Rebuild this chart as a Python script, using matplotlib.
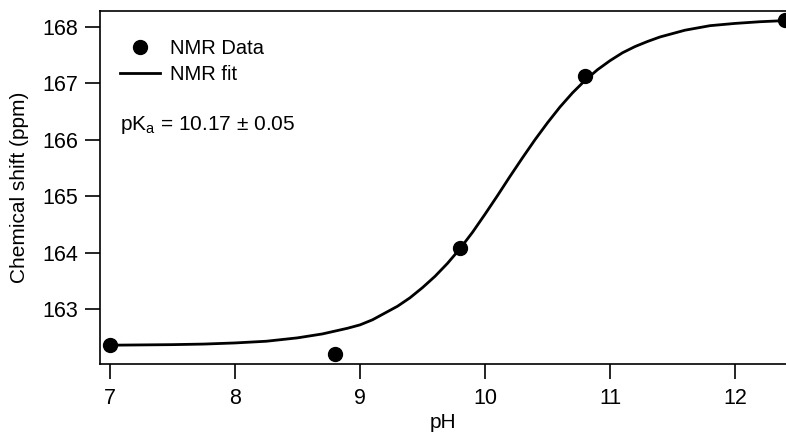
import matplotlib
matplotlib.use('Agg')
import matplotlib.pyplot as plt

# measured NMR points (pH, chemical shift in ppm)
ph_data = [7.0, 8.8, 9.8, 10.8, 12.4]
shift_data = [162.36, 162.21, 164.08, 167.12, 168.12]

# fit curve, values
ph_fit = [7.0, 7.5, 7.75, 8.0, 8.25, 8.5, 8.7, 8.9, 9.0, 9.1, 9.2, 9.3, 9.4,
          9.5, 9.6, 9.7, 9.8, 9.9, 10.0, 10.1, 10.2, 10.3, 10.4, 10.5, 10.6,
          10.7, 10.8, 10.9, 11.0, 11.1, 11.2, 11.3, 11.4, 11.5, 11.6, 11.8,
          12.0, 12.2, 12.4]
shift_fit = [162.36, 162.37, 162.38, 162.40, 162.43, 162.49, 162.56, 162.66,
             162.72, 162.81, 162.93, 163.05, 163.20, 163.38, 163.58, 163.81,
             164.07, 164.36, 164.68, 165.01, 165.35, 165.68, 166.00, 166.30,
             166.58, 166.83, 167.05, 167.24, 167.40, 167.54, 167.65, 167.74,
             167.82, 167.88, 167.94, 168.02, 168.06, 168.09, 168.11]

x_ticks = [7, 8, 9, 10, 11, 12]
y_ticks = [163, 164, 165, 166, 167, 168]

plt.rcParams['font.family'] = ['Liberation Sans', 'DejaVu Sans']
plt.rcParams['mathtext.fontset'] = 'custom'
plt.rcParams['mathtext.rm'] = 'Liberation Sans'

fig = plt.figure(figsize=(7.86, 4.32), dpi=100)
ax = fig.add_axes([100 / 786, 68 / 432, 686 / 786, 353 / 432])

# curve first, dots on top
ax.plot(ph_fit, shift_fit, color='black', lw=2.0, solid_joinstyle='round',
        label='NMR fit', zorder=2)
ax.plot(ph_data, shift_data, 'o', color='black', ms=10, label='NMR Data',
        zorder=3)

ax.set_xlim(6.92, 12.408)
ax.set_ylim(162.027, 168.28)
ax.set_xticks(x_ticks)
ax.set_yticks(y_ticks)

# only left, top and bottom frame lines
ax.spines['right'].set_visible(False)
for s in ['left', 'top', 'bottom']:
    ax.spines[s].set_linewidth(1.2)
ax.tick_params(direction='out', length=10.5, width=1.2, labelsize=15.5)
ax.tick_params(axis='x', pad=7)
ax.tick_params(axis='y', pad=5)

ax.set_xlabel('pH', fontsize=15, labelpad=3)
ax.set_ylabel('Chemical shift (ppm)', fontsize=15, labelpad=10)

# legend: dots then line
handles, labels = ax.get_legend_handles_labels()
ax.legend(handles[::-1], labels[::-1], loc='upper left',
          bbox_to_anchor=(0.029, 0.92), frameon=False, fontsize=14.5,
          borderpad=0, borderaxespad=0, handlelength=2.0,
          handletextpad=0.5, labelspacing=0.34)

ax.text(0.029, 1 - (130 - 11) / 353, r'pK$_{\rm a}$ = 10.17 ± 0.05',
        transform=ax.transAxes, fontsize=15, va='baseline', ha='left')

fig.savefig('out.png', dpi=100)
